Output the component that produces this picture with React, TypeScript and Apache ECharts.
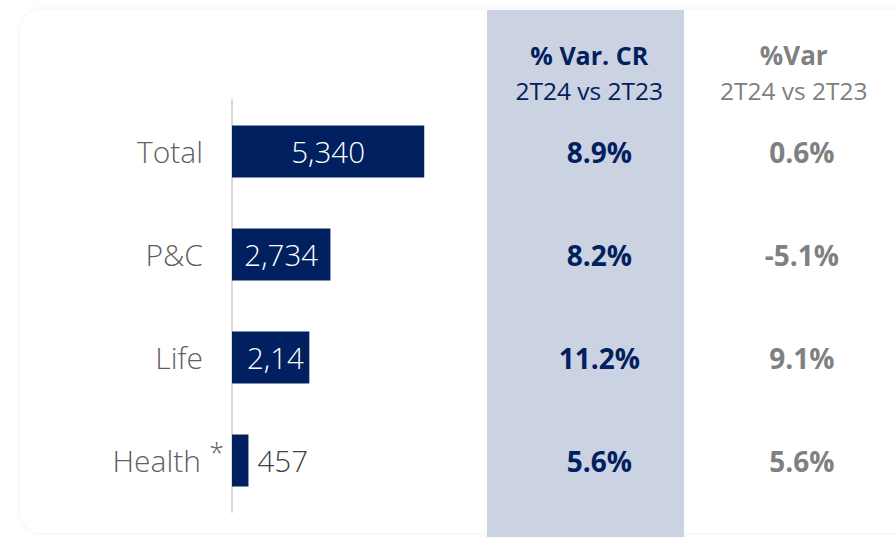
import React, { useEffect, useRef } from "react";
import * as echarts from "echarts";

const categories = ["Total", "P&C", "Life", "Health"];
const values = [5340, 2734, 2148, 457];
const varCR = ["8.9%", "8.2%", "11.2%", "5.6%"];
const varPct = ["0.6%", "-5.1%", "9.1%", "5.6%"];
const columnKeys = ["cr", "var"];
const columnTitles = ["% Var. CR", "%Var"];
const columnSubtitles = ["2T24 vs 2T23", "2T24 vs 2T23"];

const NAVY = "#00205F";
const GRAY = "#808080";
const LABEL_FONT = "Open Sans";
const TABLE_FONT = "Open Sans";

export default function App() {
  const ref = useRef<HTMLDivElement>(null);
  useEffect(() => {
    if (!ref.current) return;
    const chart = echarts.init(ref.current, null, { renderer: "svg" });
    const barData = values.map((v, i) => {
      const base: any = { value: v };
      if (i === 2) {
        base.label = {
          position: "insideLeft",
          distance: 15,
          width: 62,
          overflow: "truncate",
          ellipsis: "",
        };
      } else if (i === 3) {
        base.label = { position: "right", distance: 9, color: "#404040" };
      }
      return base;
    });
    chart.setOption({
      animation: false,
      backgroundColor: "#ffffff",
      graphic: [
        {
          type: "rect",
          z: -10,
          shape: { x: 20, y: 10, width: 900, height: 523, r: 22 },
          style: { fill: "#ffffff", shadowBlur: 6, shadowColor: "rgba(0,0,0,0.07)" },
          silent: true,
        },
        {
          type: "rect",
          z: -9,
          shape: { x: 487, y: 10, width: 197, height: 527 },
          style: { fill: "#CBD2E1" },
          silent: true,
        },
      ],
      grid: [
        { left: 232, top: 100, width: 216, height: 412 },
        { left: 487, top: 100, width: 413, height: 412 },
      ],
      xAxis: [
        { gridIndex: 0, type: "value", min: 0, max: 6000, show: false },
        {
          gridIndex: 1,
          type: "category",
          data: columnKeys,
          position: "top",
          axisLine: { show: false },
          axisTick: { show: false },
          splitLine: { show: false },
          axisLabel: {
            margin: 0,
            interval: 0,
            formatter: (_v: string, idx: number) =>
              `{${idx === 0 ? "h0" : "h1"}|${columnTitles[idx]}}\n{${idx === 0 ? "s0" : "s1"}|${columnSubtitles[idx]}}`,
            rich: {
              h0: { fontFamily: TABLE_FONT, fontWeight: "bold", fontSize: 25, color: NAVY, lineHeight: 50 },
              h1: { fontFamily: TABLE_FONT, fontWeight: "bold", fontSize: 26, color: GRAY, lineHeight: 50 },
              s0: { fontFamily: TABLE_FONT, fontSize: 24.5, color: NAVY, lineHeight: 20 },
              s1: { fontFamily: TABLE_FONT, fontSize: 24.5, color: GRAY, lineHeight: 20 },
            },
          },
        },
      ],
      yAxis: [
        {
          gridIndex: 0,
          type: "category",
          data: categories,
          inverse: true,
          axisLine: { show: true, lineStyle: { color: "#D9D9D9", width: 2 } },
          axisTick: { show: false },
          axisLabel: {
            margin: 8,
            formatter: (v: string) =>
              v === "Health" ? `{a|${v}}{ast|*}` : `{a|${v}}{sp|}`,
            rich: {
              a: { fontFamily: LABEL_FONT, fontWeight: 300, fontSize: 30, color: "#5F5F5F" },
              sp: { width: 21 },
              ast: {
                fontFamily: LABEL_FONT,
                fontWeight: 300,
                fontSize: 27,
                color: "#5F5F5F",
                width: 23,
                align: "right",
                padding: [0, 0, 16, 0],
              },
            },
          },
        },
        {
          gridIndex: 1,
          type: "category",
          data: categories,
          inverse: true,
          show: false,
        },
      ],
      series: [
        {
          type: "bar",
          xAxisIndex: 0,
          yAxisIndex: 0,
          data: barData,
          barWidth: 52,
          itemStyle: { color: NAVY },
          label: {
            show: true,
            position: "inside",
            color: "#ffffff",
            fontFamily: LABEL_FONT,
            fontWeight: 300,
            fontSize: 29.5,
            formatter: (p: any) => p.value.toLocaleString("en-US"),
          },
        },
        {
          type: "scatter",
          xAxisIndex: 1,
          yAxisIndex: 1,
          symbolSize: 0,
          itemStyle: { opacity: 1 },
          data: categories.map((c, i) => ({ value: [columnKeys[0], c], text: varCR[i] })),
          label: {
            show: true,
            position: "inside",
            offset: [10, 0],
            color: NAVY,
            fontFamily: TABLE_FONT,
            fontWeight: "bold",
            fontSize: 28,
            formatter: (p: any) => p.data.text,
          },
        },
        {
          type: "scatter",
          xAxisIndex: 1,
          yAxisIndex: 1,
          symbolSize: 0,
          itemStyle: { opacity: 1 },
          data: categories.map((c, i) => ({ value: [columnKeys[1], c], text: varPct[i] })),
          label: {
            show: true,
            position: "inside",
            offset: [8, 0],
            color: GRAY,
            fontFamily: TABLE_FONT,
            fontWeight: "bold",
            fontSize: 28,
            formatter: (p: any) => p.data.text,
          },
        },
      ],
    });
    return () => chart.dispose();
  }, []);
  return (
    <div
      ref={ref}
      style={{ position: "absolute", left: 0, top: 0, width: 896, height: 537 }}
    />
  );
}
